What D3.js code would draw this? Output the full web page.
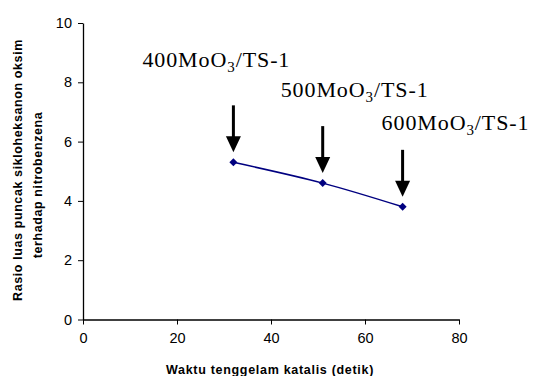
<!DOCTYPE html>
<html>
<head>
<meta charset="utf-8">
<script src="https://cdn.jsdelivr.net/npm/d3@7"></script>
<style>
  body { margin: 0; background: #fff; }
  svg { display: block; }
</style>
</head>
<body>
<svg id="chart" width="539" height="376"></svg>
<script>
// data
const xValues = [32, 51, 68];
const yValues = [5.3, 4.6, 3.8];
const sampleLabels = ['400', '500', '600'];
const xTicks = [0, 20, 40, 60, 80];
const yTicks = [0, 2, 4, 6, 8, 10];
const xTitle = 'Waktu tenggelam katalis (detik)';
const yTitleLines = ['Rasio luas puncak sikloheksanon oksim', 'terhadap nitrobenzena'];

const svg = d3.select('#chart');

const x = d3.scaleLinear().domain([0, 80]).range([83, 459]);
const y = d3.scaleLinear().domain([0, 10]).range([319.5, 23]);

// x axis
svg.append('g')
  .attr('transform', 'translate(0,' + y(0) + ')')
  .call(d3.axisBottom(x).tickValues(xTicks).tickSize(5).tickSizeOuter(0).tickPadding(8))
  .call(g => g.select('.domain').attr('stroke', '#000').attr('stroke-width', 1.3))
  .call(g => g.selectAll('.tick line').attr('stroke', '#000'))
  .call(g => g.selectAll('text').attr('font-family', 'Liberation Sans, Arial, sans-serif').attr('font-size', 14.5).attr('fill', '#000'));

// y axis
svg.append('g')
  .attr('transform', 'translate(' + x(0) + ',0)')
  .call(d3.axisLeft(y).tickValues(yTicks).tickSize(5).tickSizeOuter(0).tickPadding(6))
  .call(g => g.select('.domain').attr('stroke', '#000').attr('stroke-width', 1.3))
  .call(g => g.selectAll('.tick line').attr('stroke', '#000'))
  .call(g => g.selectAll('text').attr('font-family', 'Liberation Sans, Arial, sans-serif').attr('font-size', 14.5).attr('fill', '#000'));

// axis titles
svg.append('text')
  .attr('x', 270)
  .attr('y', 374)
  .attr('text-anchor', 'middle')
  .attr('font-family', 'Liberation Sans, Arial, sans-serif')
  .attr('font-weight', 'bold')
  .attr('font-size', 12.5)
  .attr('letter-spacing', 0.7)
  .text(xTitle);

const yCenters = [170, 185];
yTitleLines.forEach((line, i) => {
  svg.append('text')
    .attr('transform', 'translate(' + (22 + i * 20) + ',' + yCenters[i] + ') rotate(-90)')
    .attr('text-anchor', 'middle')
    .attr('font-family', 'Liberation Sans, Arial, sans-serif')
    .attr('font-weight', 'bold')
    .attr('font-size', 12.5)
    .attr('letter-spacing', 0.6)
    .text(line);
});

const pts = xValues.map((d, i) => [x(d), y(yValues[i])]);

// series line
svg.append('path')
  .attr('d', d3.line().curve(d3.curveCatmullRom)(pts))
  .attr('fill', 'none')
  .attr('stroke', '#000080')
  .attr('stroke-width', 1.5);

// diamond markers
svg.selectAll('.marker')
  .data(pts)
  .enter().append('path')
  .attr('class', 'marker')
  .attr('transform', d => 'translate(' + d[0] + ',' + d[1] + ')')
  .attr('d', 'M0,-4L4,0L0,4L-4,0Z')
  .attr('fill', '#000080');

// arrows and labels
const arrowLen = [47, 47, 47];
const labelOffset = [95, 86, 77];
pts.forEach((p, i) => {
  const tipY = p[1] - 10;
  const topY = tipY - arrowLen[i];
  svg.append('line')
    .attr('x1', p[0]).attr('x2', p[0])
    .attr('y1', topY).attr('y2', tipY - 14)
    .attr('stroke', '#000')
    .attr('stroke-width', 3);
  svg.append('path')
    .attr('d', 'M' + (p[0] - 7.5) + ',' + (tipY - 16) + 'L' + (p[0] + 7.5) + ',' + (tipY - 16) + 'L' + p[0] + ',' + tipY + 'Z')
    .attr('fill', '#000');

  const t = svg.append('text')
    .attr('x', p[0] - (i === 0 ? 91 : (i === 1 ? 42 : 21)))
    .attr('y', p[1] - labelOffset[i])
    .attr('font-family', 'Liberation Serif, Times New Roman, serif')
    .attr('font-size', 22)
    .attr('letter-spacing', 0.9)
    .attr('fill', '#000');
  t.append('tspan').text(sampleLabels[i] + 'MoO');
  t.append('tspan').attr('font-size', 15).attr('dy', 5).text('3');
  t.append('tspan').attr('dy', -5).text('/TS-1');
});
</script>
</body>
</html>
